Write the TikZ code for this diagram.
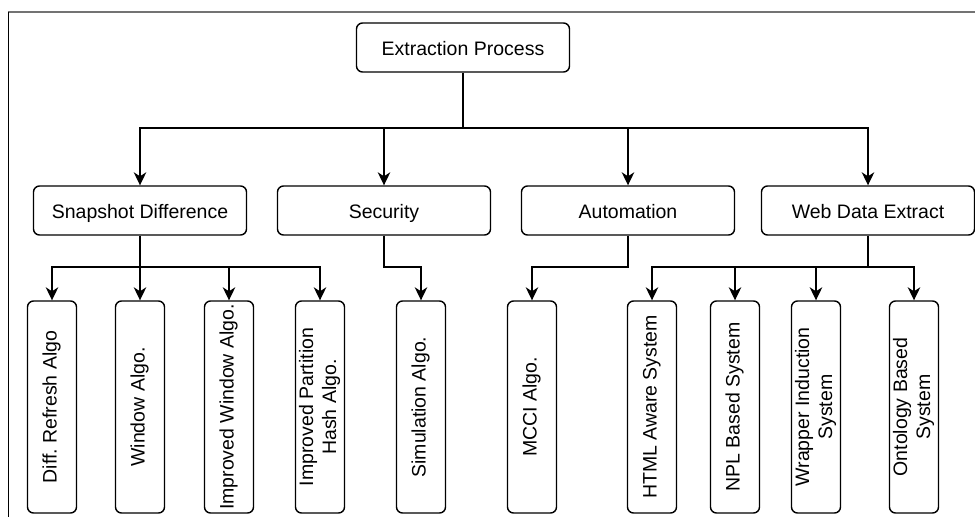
\documentclass[tikz,border=0pt]{standalone}
\usepackage{fontspec}
\setmainfont{Liberation Sans}
\usepackage{graphicx}
\usetikzlibrary{arrows.meta}
\frenchspacing

\newcommand{\vlabel}[1]{\rotatebox{90}{\begin{tabular}{@{}c@{}}#1\end{tabular}}}

\tikzset{
  box/.style={draw=black, line width=1.4pt, rounded corners=6pt, inner sep=0pt,
              font=\fontsize{19.5}{23}\selectfont, align=center},
  topbox/.style={box, minimum width=213pt, minimum height=49pt,
                 text height=16pt, text depth=1pt},
  leafbox/.style={box, minimum width=49pt, minimum height=212pt},
  link/.style={line width=1.5pt, draw=black},
  arr/.style={link, -{Stealth[length=13pt, width=12.5pt, inset=4pt]}},
}

\begin{document}
\begin{tikzpicture}[x=1pt, y=-1pt]
  \useasboundingbox (0,0) rectangle (975,517);

  % outer frame edges
  \draw[line width=2pt, draw=black!55] (8,12) -- (975,12);
  \draw[line width=1pt, draw=black] (8,12) -- (8,517);

  % root
  \node[topbox] (root) at (463,47.5) {Extraction Process};

  % categories
  \node[topbox] (snap) at (140,210.5) {Snapshot Difference};
  \node[topbox] (sec)  at (384,210.5) {Security};
  \node[topbox] (aut)  at (628,210.5) {Automation};
  \node[topbox] (web)  at (868,210.5) {Web Data Extract};

  % leaves
  \node[leafbox] (diff) at (52,407)  {\vlabel{Diff. Refresh Algo}};
  \node[leafbox] (win)  at (140,407) {\vlabel{Window Algo.}};
  \node[leafbox] (iwin) at (229,407) {\vlabel{Improved Window Algo.}};
  \node[leafbox] (iph)  at (320,407) {\vlabel{Improved Partition\\Hash Algo.}};
  \node[leafbox] (sim)  at (421,407) {\vlabel{Simulation Algo.}};
  \node[leafbox] (mcci) at (532,407) {\vlabel{MCCI Algo.}};
  \node[leafbox] (html) at (652,407) {\vlabel{HTML Aware System}};
  \node[leafbox] (npl)  at (735,407) {\vlabel{NPL Based System}};
  \node[leafbox] (wrap) at (816,407) {\vlabel{Wrapper Induction\\System}};
  \node[leafbox] (onto) at (914,407) {\vlabel{Ontology Based\\System}};

  % bus levels
  \coordinate (busA) at (0,128);
  \coordinate (busB) at (0,267);

  % root to categories
  \draw[link] (root.south) -- (root.south |- busA);
  \foreach \c in {snap,sec,aut,web}
    \draw[arr] (root.south |- busA) -| (\c.north);

  % categories to leaves
  \draw[link] (snap.south) -- (snap.south |- busB);
  \foreach \l in {diff,win,iwin,iph}
    \draw[arr] (snap.south |- busB) -| (\l.north);
  \draw[arr] (sec.south) -- (sec.south |- busB) -| (sim.north);
  \draw[arr] (aut.south) -- (aut.south |- busB) -| (mcci.north);
  \draw[link] (web.south) -- (web.south |- busB);
  \foreach \l in {html,npl,wrap,onto}
    \draw[arr] (web.south |- busB) -| (\l.north);
\end{tikzpicture}
\end{document}
